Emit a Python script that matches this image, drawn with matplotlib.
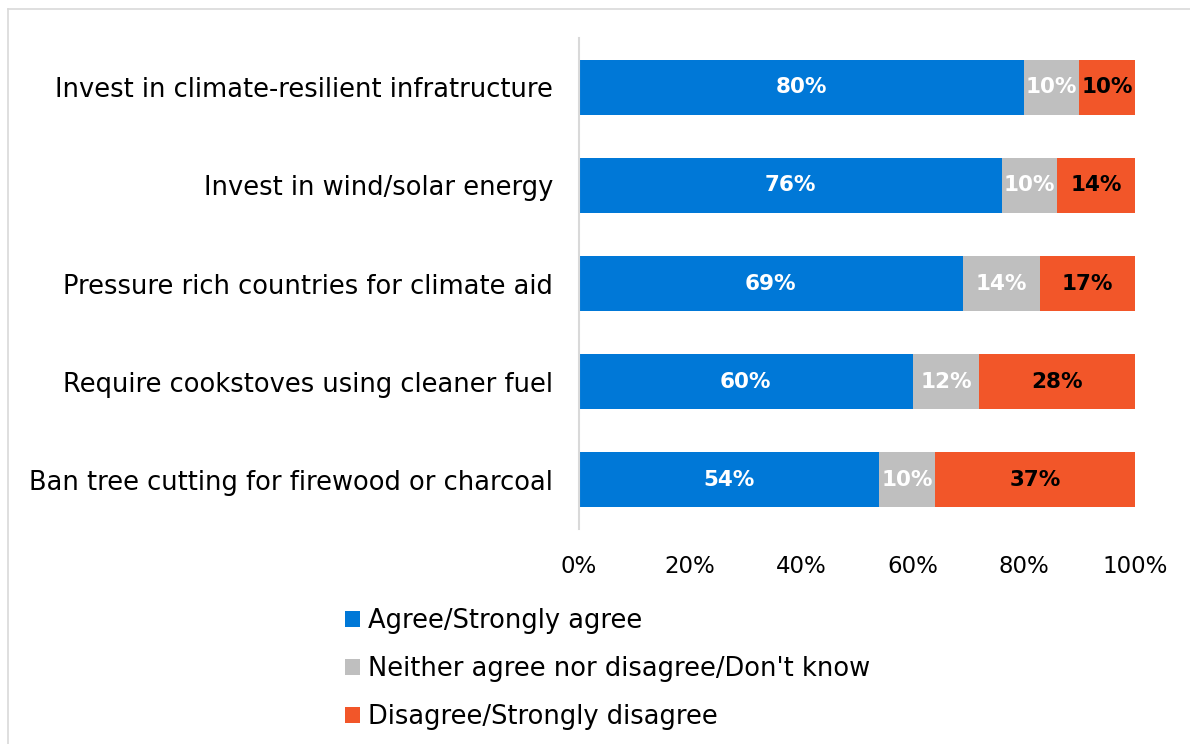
import numpy as np
import matplotlib.pyplot as plt
from matplotlib.lines import Line2D

# survey items, top to bottom
items = ['Invest in climate-resilient infratructure',
         'Invest in wind/solar energy',
         'Pressure rich countries for climate aid',
         'Require cookstoves using cleaner fuel',
         'Ban tree cutting for firewood or charcoal']
agree = [80, 76, 69, 60, 54]
neither = [10, 10, 14, 12, 10]
disagree = [10, 14, 17, 28, 37]
series = ['Agree/Strongly agree',
          'Neither agree nor disagree/Don\'t know',
          'Disagree/Strongly disagree']
colors = ['#0078D7', '#BFBFBF', '#F25629']
label_colors = ['white', 'white', 'black']

plt.rcParams['font.family'] = ['DejaVu Sans']

fig = plt.figure(figsize=(11.9, 7.44), dpi=100)
ax = fig.add_axes([579/1190, 1-529/744, (1135-579)/1190, (529-38)/744])

y = np.arange(len(items))
left = np.zeros(len(items))
for vals, col, lc, name in zip([agree, neither, disagree], colors, label_colors, series):
    v = np.array(vals) / 100
    bars = ax.barh(y, v, left=left, height=0.56, color=col, label=name)
    ax.bar_label(bars, labels=[f'{x}%' for x in vals], label_type='center',
                 color=lc, fontsize=15.5, fontweight='bold')
    left += v

ax.set_xlim(0, 1)
ax.set_ylim(len(items) - 0.5, -0.5)
ax.set_yticks(y)
ax.set_yticklabels(items, fontsize=18.5)
ax.set_xticks(np.linspace(0, 1, 6))
ax.set_xticklabels([f'{int(t)}%' for t in np.linspace(0, 100, 6)], fontsize=16.5)
ax.tick_params(length=0)
ax.tick_params(axis='y', pad=18.5)
ax.tick_params(axis='x', pad=19)
for s in ['top', 'right', 'bottom']:
    ax.spines[s].set_visible(False)
ax.spines['left'].set_color('#D9D9D9')
ax.spines['left'].set_linewidth(1.5)

fig.legend(loc='upper left', bbox_to_anchor=(322/1190, 1-585/744), frameon=False,
           fontsize=18.5, handlelength=0.58, handleheight=0.58, handletextpad=0.31,
           labelspacing=0.85)

# outer chart border (top and left)
fig.add_artist(Line2D([8/1190, 1], [1-9/744, 1-9/744], color='#D9D9D9', lw=1.2))
fig.add_artist(Line2D([8/1190, 8/1190], [0, 1-9/744], color='#D9D9D9', lw=1.2))

fig.savefig('out.png', dpi=100)
